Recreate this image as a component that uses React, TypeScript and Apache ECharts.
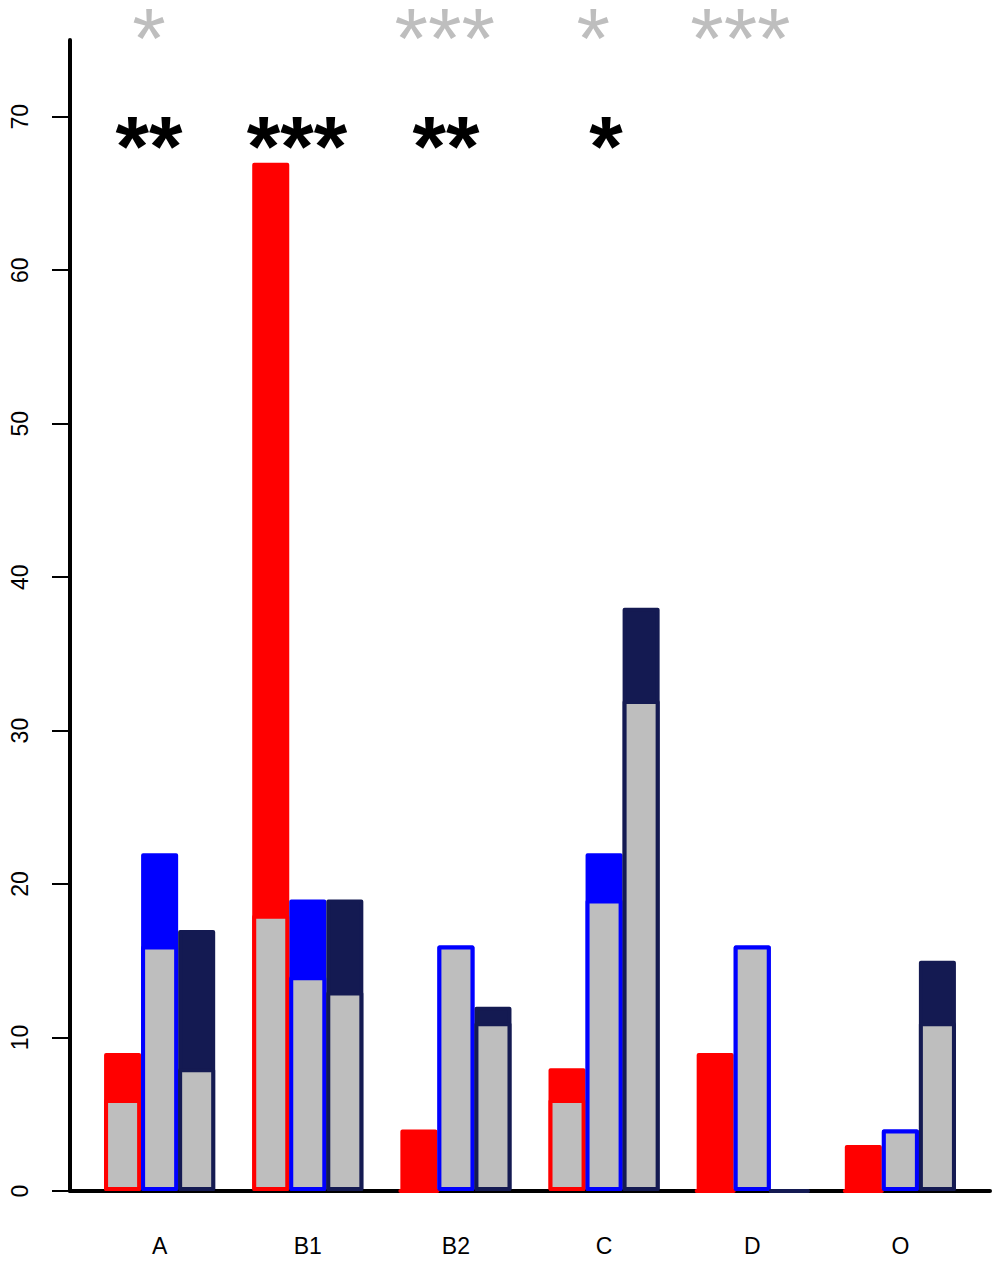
import React, { useEffect, useRef } from "react";
import * as echarts from "echarts";

// ---- data ----
const categories = ["A", "B1", "B2", "C", "D", "O"];
const redTotal = [9, 67, 4, 8, 9, 3];
const redGray = [6, 18, 0, 6, 0, 0];
const blueTotal = [22, 19, 16, 22, 16, 4];
const blueGray = [16, 14, 16, 19, 16, 4];
const navyTotal = [17, 19, 12, 38, 0, 15];
const navyGray = [8, 13, 11, 32, 0, 11];
const yTicks = [0, 10, 20, 30, 40, 50, 60, 70];

const blackStarX = [2.21, 6.21, 10.23, 14.55];
const blackStarText = ["**", "***", "**", "*"];
const blackStarY = 68.1;
const grayStarX = [2.21, 10.2, 14.21, 18.18];
const grayStarText = ["*", "***", "*", "***"];
const grayStarY = 75.1;

// ---- styling ----
const RED = "#FF0000";
const BLUE = "#0000FF";
const NAVY = "#141A52";
const GRAY = "#BEBEBE";
const FONT = "Liberation Sans, Arial, Helvetica, sans-serif";
const X_MIN = 0.08;
const X_MAX = 24.92;
const GRID = { left: 70, right: 10, top: 40, bottom: 72 };
const WIDTH = 1000;
const HEIGHT = 1263;

export default function App() {
  const ref = useRef<HTMLDivElement>(null);

  useEffect(() => {
    if (!ref.current) return;
    const chart = echarts.init(ref.current, undefined, { renderer: "svg" });

    const totals = [redTotal, blueTotal, navyTotal];
    const grays = [redGray, blueGray, navyGray];
    const cols = [RED, BLUE, NAVY];
    const colored: any[] = [];
    const grayData: any[] = [];
    categories.forEach((_, g) => {
      for (let b = 0; b < 3; b++) {
        const x = 4 * g + 1.5 + b;
        colored.push({
          value: [x, totals[b][g]],
          itemStyle: { color: cols[b], borderColor: cols[b] },
        });
        grayData.push({
          value: [x, grays[b][g]],
          itemStyle: { color: GRAY, borderColor: cols[b] },
        });
      }
    });
    const centers = categories.map((_, g) => 4 * g + 2.5);
    const barWidth = (WIDTH - GRID.left - GRID.right) / (X_MAX - X_MIN);

    const starSeries = (xs: number[], texts: string[], y: number, color: string, weight: string) => ({
      type: "scatter",
      data: xs.map((x, i) => ({ value: [x, y], name: texts[i] })),
      symbolSize: 1,
      itemStyle: { color: "rgba(255,255,255,0)", opacity: 1 },
      clip: false,
      silent: true,
      z: 5,
      label: {
        show: true,
        position: "inside",
        formatter: (p: any) => p.name,
        fontSize: 86,
        lineHeight: 40,
        fontWeight: weight,
        color,
        opacity: 1,
        fontFamily: FONT,
      },
    });

    chart.setOption({
      animation: false,
      backgroundColor: "#ffffff",
      grid: { ...GRID, containLabel: false },
      xAxis: {
        type: "value",
        min: X_MIN,
        max: X_MAX,
        axisLine: { show: true, onZero: false, lineStyle: { color: "#000", width: 4 } },
        axisTick: { show: false },
        splitLine: { show: false },
        axisLabel: {
          customValues: centers,
          formatter: (v: number) => categories[Math.round((v - 2.5) / 4)] ?? "",
          fontSize: 23,
          color: "#000",
          margin: 43,
          fontFamily: FONT,
        },
      },
      yAxis: {
        type: "value",
        min: 0,
        max: 75,
        axisLine: { show: true, onZero: false, lineStyle: { color: "#000", width: 4 } },
        axisTick: { show: true, customValues: yTicks, length: 18, lineStyle: { color: "#000", width: 2 } },
        splitLine: { show: false },
        axisLabel: {
          customValues: yTicks,
          rotate: 90,
          margin: 39,
          fontSize: 23,
          color: "#000",
          fontFamily: FONT,
        },
      },
      series: [
        {
          type: "bar",
          data: colored,
          barWidth,
          barGap: "-100%",
          itemStyle: { borderWidth: 4, borderJoin: "round" },
          silent: true,
        },
        {
          type: "bar",
          data: grayData,
          barWidth,
          barGap: "-100%",
          itemStyle: { borderWidth: 4, borderJoin: "round" },
          silent: true,
        },
        starSeries(blackStarX, blackStarText, blackStarY, "#000000", "bold"),
        starSeries(grayStarX, grayStarText, grayStarY, GRAY, "normal"),
      ],
    });

    return () => chart.dispose();
  }, []);

  return (
    <div
      ref={ref}
      style={{ position: "absolute", left: 0, top: 0, width: WIDTH, height: HEIGHT, background: "#fff" }}
    />
  );
}
